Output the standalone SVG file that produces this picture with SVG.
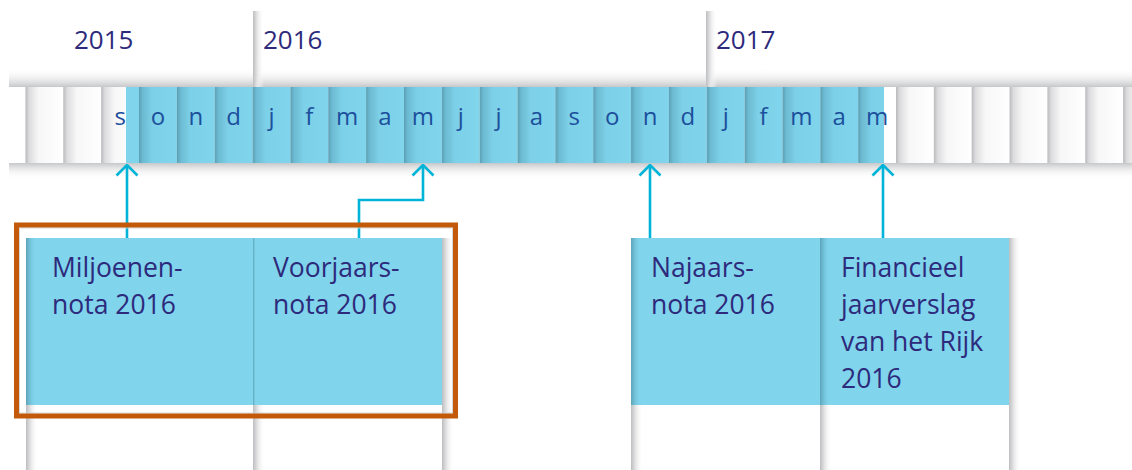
<svg xmlns="http://www.w3.org/2000/svg" width="1132" height="470" viewBox="0 0 1132 470">
<defs>
<linearGradient id="gWhite" x1="0" y1="0" x2="1" y2="0">
<stop offset="0" stop-color="#b9babc"/>
<stop offset="0.1" stop-color="#dcdcde"/>
<stop offset="0.35" stop-color="#f7f7f7"/>
<stop offset="1" stop-color="#ffffff"/>
</linearGradient>
<linearGradient id="gBlue" x1="0" y1="0" x2="1" y2="0">
<stop offset="0" stop-color="#5b9fb4"/>
<stop offset="0.1" stop-color="#6cbbd2"/>
<stop offset="0.35" stop-color="#7cd0e7"/>
<stop offset="1" stop-color="#80d4eb"/>
</linearGradient>
<linearGradient id="gEdgeW" x1="0" y1="0" x2="1" y2="0">
<stop offset="0" stop-color="#bdbec0"/>
<stop offset="0.4" stop-color="#e6e6e7"/>
<stop offset="1" stop-color="#ffffff" stop-opacity="0"/>
</linearGradient>
<linearGradient id="gEdgeB" x1="0" y1="0" x2="1" y2="0">
<stop offset="0" stop-color="#5fa5ba"/>
<stop offset="0.4" stop-color="#72c2d9"/>
<stop offset="1" stop-color="#80d4eb" stop-opacity="0"/>
</linearGradient>
<linearGradient id="gDown" x1="0" y1="0" x2="0" y2="1">
<stop offset="0" stop-color="#c6c7c9"/>
<stop offset="1" stop-color="#ffffff" stop-opacity="0"/>
</linearGradient>
<linearGradient id="gUp" x1="0" y1="1" x2="0" y2="0">
<stop offset="0" stop-color="#c6c7c9"/>
<stop offset="1" stop-color="#ffffff" stop-opacity="0"/>
</linearGradient>
<marker id="arr" viewBox="0 0 14 24" refX="12.5" refY="12" markerWidth="14" markerHeight="24" markerUnits="userSpaceOnUse" orient="auto">
<path d="M2 1.5 L12.5 12 L2 22.5" fill="none" stroke="#00b4d9" stroke-width="2.6"/>
</marker>
</defs>
<style>
.yr{font-family:"Open Sans","Liberation Sans",sans-serif;font-size:26px;fill:#2d2a7c}
.mo{font-family:"Open Sans","Liberation Sans",sans-serif;font-size:24px;fill:#1c4f9c;text-anchor:middle}
.bx{font-family:"Open Sans","Liberation Sans",sans-serif;font-size:26.5px;fill:#2d2a7c}
.cw{fill:url(#gWhite)}
.cb{fill:url(#gBlue)}
.con{fill:none;stroke:#00b4d9;stroke-width:2.6}
.box{fill:#80d4eb}
</style>
<rect width="1132" height="470" fill="#ffffff"/>
<g id="timeline">
<rect x="9" y="68" width="1123" height="19" fill="url(#gUp)"/>
<rect x="253" y="11" width="11" height="76" fill="url(#gEdgeW)"/>
<rect x="706" y="11" width="11" height="76" fill="url(#gEdgeW)"/>
<text class="yr" x="74" y="49">2015</text>
<text class="yr" x="263" y="49">2016</text>
<text class="yr" x="716" y="49">2017</text>
<rect x="9" y="87" width="1123" height="76" fill="#ffffff"/>
<rect class="cw" x="25.45" y="87" width="37.85" height="76"/>
<rect class="cw" x="63.3" y="87" width="37.85" height="76"/>
<rect class="cw" x="101.15" y="87" width="37.85" height="76"/>
<rect x="126" y="87" width="13" height="76" fill="#80d4eb"/>
<rect class="cb" x="139" y="87" width="37.85" height="76"/>
<rect class="cb" x="176.85" y="87" width="37.85" height="76"/>
<rect class="cb" x="214.7" y="87" width="37.85" height="76"/>
<rect class="cb" x="252.55" y="87" width="37.85" height="76"/>
<rect class="cb" x="290.4" y="87" width="37.85" height="76"/>
<rect class="cb" x="328.25" y="87" width="37.85" height="76"/>
<rect class="cb" x="366.1" y="87" width="37.85" height="76"/>
<rect class="cb" x="403.95" y="87" width="37.85" height="76"/>
<rect class="cb" x="441.8" y="87" width="37.85" height="76"/>
<rect class="cb" x="479.65" y="87" width="37.85" height="76"/>
<rect class="cb" x="517.5" y="87" width="37.85" height="76"/>
<rect class="cb" x="555.35" y="87" width="37.85" height="76"/>
<rect class="cb" x="593.2" y="87" width="37.85" height="76"/>
<rect class="cb" x="631.05" y="87" width="37.85" height="76"/>
<rect class="cb" x="668.9" y="87" width="37.85" height="76"/>
<rect class="cb" x="706.75" y="87" width="37.85" height="76"/>
<rect class="cb" x="744.6" y="87" width="37.85" height="76"/>
<rect class="cb" x="782.45" y="87" width="37.85" height="76"/>
<rect class="cb" x="820.3" y="87" width="37.85" height="76"/>
<rect class="cb" x="858.15" y="87" width="37.85" height="76"/>
<rect x="884" y="87" width="12" height="76" fill="#ffffff"/>
<rect class="cw" x="896" y="87" width="37.85" height="76"/>
<rect class="cw" x="933.85" y="87" width="37.85" height="76"/>
<rect class="cw" x="971.7" y="87" width="37.85" height="76"/>
<rect class="cw" x="1009.55" y="87" width="37.85" height="76"/>
<rect class="cw" x="1047.4" y="87" width="37.85" height="76"/>
<rect class="cw" x="1085.25" y="87" width="37.85" height="76"/>
<rect class="cw" x="1123.1" y="87" width="37.85" height="76"/>
<rect x="9" y="163" width="1123" height="16" fill="url(#gDown)"/>
<text class="mo" x="120.1" y="125">s</text>
<text class="mo" x="157.9" y="125">o</text>
<text class="mo" x="195.8" y="125">n</text>
<text class="mo" x="233.6" y="125">d</text>
<text class="mo" x="271.5" y="125">j</text>
<text class="mo" x="309.3" y="125">f</text>
<text class="mo" x="347.2" y="125">m</text>
<text class="mo" x="385" y="125">a</text>
<text class="mo" x="422.9" y="125">m</text>
<text class="mo" x="460.7" y="125">j</text>
<text class="mo" x="498.6" y="125">j</text>
<text class="mo" x="536.4" y="125">a</text>
<text class="mo" x="574.3" y="125">s</text>
<text class="mo" x="612.1" y="125">o</text>
<text class="mo" x="650" y="125">n</text>
<text class="mo" x="687.8" y="125">d</text>
<text class="mo" x="725.7" y="125">j</text>
<text class="mo" x="763.5" y="125">f</text>
<text class="mo" x="801.4" y="125">m</text>
<text class="mo" x="839.2" y="125">a</text>
<text class="mo" x="877.1" y="125">m</text>
</g>
<g id="lanes">
<rect x="26" y="238" width="12" height="232" fill="url(#gEdgeW)"/>
<rect x="253" y="238" width="12" height="232" fill="url(#gEdgeW)"/>
<rect x="442" y="238" width="12" height="232" fill="url(#gEdgeW)"/>
<rect x="631" y="238" width="12" height="232" fill="url(#gEdgeW)"/>
<rect x="820" y="238" width="12" height="232" fill="url(#gEdgeW)"/>
<rect x="1009" y="238" width="12" height="232" fill="url(#gEdgeW)"/>
</g>
<g id="connectors">
<path class="con" d="M127 238 V165" marker-end="url(#arr)"/>
<path class="con" d="M359 238 V200 H423 V165" marker-end="url(#arr)"/>
<path class="con" d="M650 238 V165" marker-end="url(#arr)"/>
<path class="con" d="M883 238 V165" marker-end="url(#arr)"/>
</g>
<g id="miljoenennota">
<rect class="box" x="26" y="238" width="227" height="167"/>
<rect x="26" y="238" width="10" height="167" fill="url(#gEdgeB)"/>
<text class="bx" x="52" y="277">Miljoenen-</text>
<text class="bx" x="52" y="314">nota 2016</text>
</g>
<g id="voorjaarsnota">
<rect class="box" x="253" y="238" width="189" height="167"/>
<rect x="253" y="238" width="3" height="167" fill="url(#gEdgeB)"/>
<text class="bx" x="273" y="277">Voorjaars-</text>
<text class="bx" x="273" y="314">nota 2016</text>
</g>
<g id="najaarsnota">
<rect class="box" x="631" y="238" width="189" height="167"/>
<rect x="631" y="238" width="10" height="167" fill="url(#gEdgeB)"/>
<text class="bx" x="651" y="277">Najaars-</text>
<text class="bx" x="651" y="314">nota 2016</text>
</g>
<g id="jaarverslag">
<rect class="box" x="820" y="238" width="189" height="167"/>
<rect x="820" y="238" width="10" height="167" fill="url(#gEdgeB)"/>
<text class="bx" x="841" y="277">Financieel</text>
<text class="bx" x="841" y="314">jaarverslag</text>
<text class="bx" x="841" y="351">van het Rijk</text>
<text class="bx" x="841" y="388">2016</text>
</g>
<g id="selection">
<rect x="19.5" y="228" width="433" height="185" fill="none" stroke="#d6d6d6" stroke-width="1"/>
<rect x="16.5" y="225" width="439" height="191" fill="none" stroke="#c25a0a" stroke-width="5"/>
</g>
</svg>
